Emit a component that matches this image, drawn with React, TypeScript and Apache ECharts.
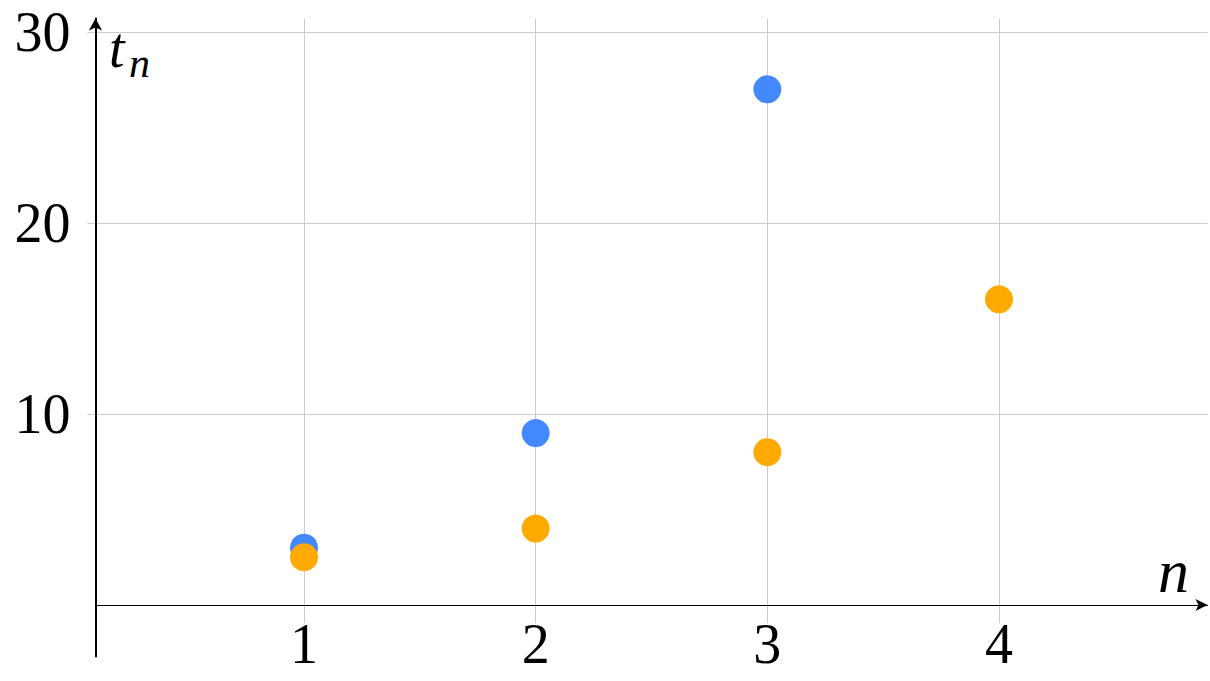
import React, { useEffect, useRef } from 'react';
import * as echarts from 'echarts';

const xTicks = [1, 2, 3, 4];
const yTicks = [10, 20, 30];
const blueX = [1, 2, 3];
const blueY = [3, 9, 27];
const orangeX = [1, 2, 3, 4];
const orangeY = [2.5, 4, 8, 16];

export default function App() {
  const ref = useRef<HTMLDivElement>(null);
  useEffect(() => {
    const chart = echarts.init(ref.current!, null, { renderer: 'svg' });
    const font = '"Liberation Serif", "Times New Roman", serif';
    const gridLine = { show: true, lineStyle: { color: '#cccccc', width: 1 } };
    chart.setOption({
      animation: false,
      backgroundColor: '#ffffff',
      grid: [
        { left: 87.4, right: 2.5, top: 18.6, height: 604.5, containLabel: false, outerBoundsMode: 'none' },
        { left: 95.5, right: 2.5, top: 18.6, height: 638, containLabel: false, outerBoundsMode: 'none' },
      ],
      xAxis: [
        {
          gridIndex: 0, type: 'value', min: 0.065, max: 4.9,
          axisLine: { show: false },
          axisTick: { show: false, customValues: xTicks },
          axisLabel: { show: false, customValues: xTicks },
          splitLine: gridLine,
        },
        {
          gridIndex: 1, type: 'value', min: 0.1, max: 4.9,
          axisLine: {
            show: true, onZero: true, symbol: ['none', 'arrow'], symbolSize: [9, 12],
            lineStyle: { color: '#000', width: 1.2 },
          },
          axisTick: { show: false, customValues: xTicks },
          axisLabel: { customValues: xTicks, fontFamily: font, fontSize: 56, color: '#000', margin: -41 },
          splitLine: { show: false },
        },
      ],
      yAxis: [
        {
          gridIndex: 0, type: 'value', min: -0.95, max: 30.7,
          axisLine: { show: false },
          axisTick: { show: false, customValues: yTicks },
          axisLabel: { show: false, customValues: yTicks },
          splitLine: gridLine,
        },
        {
          gridIndex: 1, type: 'value', min: -2.7, max: 30.7,
          axisLine: {
            show: true, onZero: false, symbol: ['none', 'arrow'], symbolSize: [10, 12],
            lineStyle: { color: '#000', width: 2 },
          },
          axisTick: { show: false, customValues: yTicks },
          axisLabel: { customValues: yTicks, fontFamily: font, fontSize: 56, color: '#000', margin: 25 },
          splitLine: { show: false },
        },
      ],
      series: [
        {
          type: 'scatter', xAxisIndex: 0, yAxisIndex: 0, symbolSize: 28,
          itemStyle: { color: '#4488ff', opacity: 1 },
          data: blueX.map((x, i) => [x, blueY[i]]),
        },
        {
          type: 'scatter', xAxisIndex: 0, yAxisIndex: 0, symbolSize: 28,
          itemStyle: { color: '#ffaa00', opacity: 1 },
          data: orangeX.map((x, i) => [x, orangeY[i]]),
        },
      ],
      graphic: [
        {
          type: 'text', left: 109, top: 20, z: 100,
          style: { text: 't', font: 'italic 56px "Liberation Serif", serif', fill: '#000' },
        },
        {
          type: 'text', left: 129, top: 42, z: 100,
          style: { text: 'n', font: 'italic 42px "Liberation Serif", serif', fill: '#000' },
        },
        {
          type: 'text', left: 1158, top: 540, z: 100,
          style: { text: 'n', font: 'italic 62px "Liberation Serif", serif', fill: '#000' },
        },
      ],
    });
    return () => chart.dispose();
  }, []);
  return <div ref={ref} style={{ position: 'absolute', left: 0, top: 0, width: 1210, height: 681 }} />;
}
